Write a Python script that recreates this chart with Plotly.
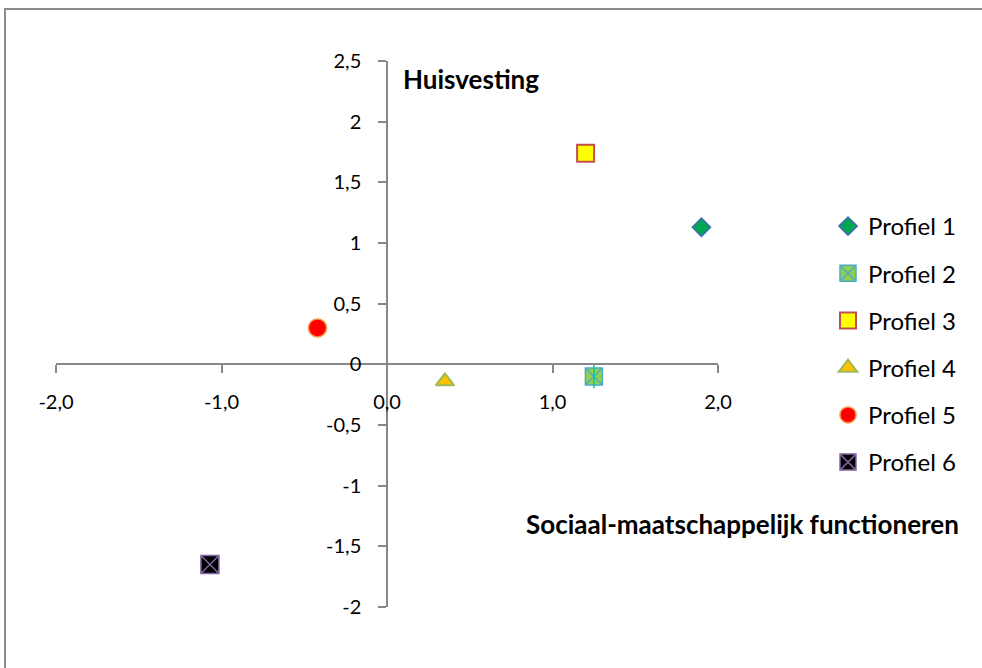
import plotly.graph_objects as go

# ---- data ----
profiles = ["Profiel 1", "Profiel 2", "Profiel 3", "Profiel 4", "Profiel 5", "Profiel 6"]
x_social = [1.90, 1.25, 1.20, 0.35, -0.42, -1.07]
y_housing = [1.13, -0.10, 1.74, -0.14, 0.30, -1.65]

x_tickvals = [-2, -1, 0, 1, 2]
x_ticktext = ["-2,0", "-1,0", "0,0", "1,0", "2,0"]
y_tickvals = [-2, -1.5, -1, -0.5, 0, 0.5, 1, 1.5, 2, 2.5]
y_ticktext = ["-2", "-1,5", "-1", "-0,5", "0", "0,5", "1", "1,5", "2", "2,5"]

x_title = "Sociaal-maatschappelijk functioneren"
y_title = "Huisvesting"

# ---- styles ----
styles = [
    dict(symbol="diamond", color="#00A651", line=dict(color="#3F6CB4", width=1.5), size=14),
    dict(symbol="square-x", color="#92D050", line=dict(color="#4BACC6", width=1.5), size=17),
    dict(symbol="square", color="#FFFF00", line=dict(color="#C0504D", width=2), size=17),
    dict(symbol="triangle-up", color="#FFC000", line=dict(color="#9BBB59", width=2), size=16),
    dict(symbol="circle", color="#FF0000", line=dict(color="#F79646", width=1.5), size=18),
    dict(symbol="square-x", color="#000000", line=dict(color="#8064A2", width=1.5), size=18),
]

W, H = 982, 668
ML, MR, MT, MB = 56, 264, 61, 61
PW, PH = W - ML - MR, H - MT - MB


def px(xp):
    return (xp - ML) / PW


def py(yp):
    return (H - MB - yp) / PH


FONT = "Lato"

fig = go.Figure()
for i, name in enumerate(profiles):
    st = styles[i]
    fig.add_trace(go.Scatter(
        x=[x_social[i]], y=[y_housing[i]], mode="markers", name=name,
        legendgroup=name,
        marker=dict(symbol=st["symbol"], color=st["color"], size=st["size"], line=st["line"]),
    ))
    if i == 1:
        # vertical stroke of the asterisk for Profiel 2
        fig.add_trace(go.Scatter(
            x=[x_social[i]], y=[y_housing[i]], mode="markers", showlegend=False,
            legendgroup=name,
            marker=dict(symbol="line-ns-open", size=17, line=dict(color="#4BACC6", width=1.5)),
        ))

axis_common = dict(
    showgrid=False, zeroline=False, showline=True, linecolor="#888888", linewidth=1.5,
    ticks="outside", ticklen=8, tickcolor="#888888", tickwidth=1.5,
    tickfont=dict(family=FONT, size=20, color="#000000"), anchor="free",
)

fig.update_layout(
    width=W, height=H,
    margin=dict(l=ML, r=MR, t=MT, b=MB),
    paper_bgcolor="white", plot_bgcolor="white",
    font=dict(family=FONT, color="#000000"),
    xaxis=dict(range=[-2, 2], tickmode="array", tickvals=x_tickvals, ticktext=x_ticktext,
               position=2 / 4.5, ticklabelstandoff=12, **axis_common),
    yaxis=dict(range=[-2, 2.5], tickmode="array", tickvals=y_tickvals, ticktext=y_ticktext,
               position=0.5, ticklabelstandoff=13, **axis_common),
    legend=dict(x=px(828), y=py(204), xanchor="left", yanchor="top",
                font=dict(family=FONT, size=24, color="#000000"),
                tracegroupgap=13, bgcolor="rgba(0,0,0,0)", borderwidth=0),
    showlegend=True,
    annotations=[
        dict(text="<b>" + y_title + "</b>", xref="paper", yref="paper",
             x=px(401), y=py(79), xanchor="left", yanchor="middle", showarrow=False,
             font=dict(family=FONT, size=26, color="#000000")),
        dict(text="<b>" + x_title + "</b>", xref="paper", yref="paper",
             x=px(524), y=py(524), xanchor="left", yanchor="middle", showarrow=False,
             font=dict(family=FONT, size=26, color="#000000")),
    ],
    shapes=[
        # frame: thin filled bars for the top and left edges (the only ones visible)
        dict(type="rect", xref="paper", yref="paper",
             x0=px(4), y0=py(10), x1=px(982), y1=py(8),
             line=dict(width=0), fillcolor="#8C8C8C", layer="below"),
        dict(type="rect", xref="paper", yref="paper",
             x0=px(4), y0=py(668), x1=px(6), y1=py(8),
             line=dict(width=0), fillcolor="#8C8C8C", layer="below"),
    ],
)

fig.write_html(
    "out.html",
    config={"displayModeBar": False},
    post_script="document.documentElement.style.overflow='hidden';document.body.style.margin='0';document.body.style.overflow='hidden';",
)
